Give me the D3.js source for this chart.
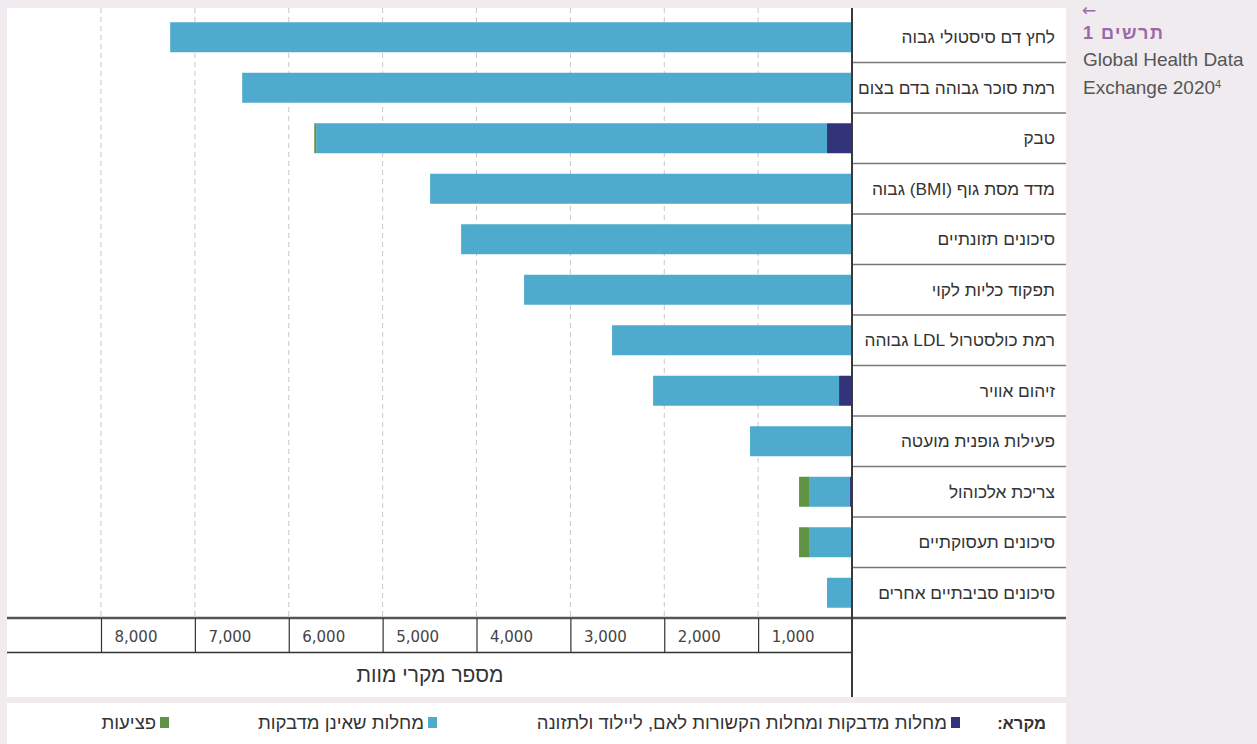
<!DOCTYPE html>
<html lang="he">
<head>
<meta charset="utf-8">
<script src="https://cdn.jsdelivr.net/npm/d3@7"></script>
<style>
  html, body { margin: 0; padding: 0; background: #efebef; }
  svg { display: block; }
  text { font-family: "Liberation Sans", Arial, "DejaVu Sans", sans-serif; }
  text.dv { font-family: "DejaVu Sans", sans-serif; }
</style>
</head>
<body>
<svg id="chart" width="1257" height="744"></svg>
<script>
const categories = [
  "לחץ דם סיסטולי גבוה",
  "רמת סוכר גבוהה בדם בצום",
  "טבק",
  "מדד מסת גוף (BMI) גבוה",
  "סיכונים תזונתיים",
  "תפקוד כליות לקוי",
  "רמת כולסטרול LDL גבוהה",
  "זיהום אוויר",
  "פעילות גופנית מועטה",
  "צריכת אלכוהול",
  "סיכונים תעסוקתיים",
  "סיכונים סביבתיים אחרים"
];
const communicable    = [0, 0, 266, 0, 0, 0, 0, 138, 0, 21, 0, 0];
const noncommunicable = [7263, 6496, 5442, 4494, 4164, 3493, 2556, 1981, 1086, 437, 458, 266];
const injuries        = [0, 0, 20, 0, 0, 0, 0, 0, 0, 106, 106, 0];
const tickValues = [1000, 2000, 3000, 4000, 5000, 6000, 7000, 8000];
const seriesNames = [
  "מחלות מדבקות ומחלות הקשורות לאם, ליילוד ולתזונה",
  "מחלות שאינן מדבקות",
  "פציעות"
];
const colors = ["#33337a", "#4eabcd", "#609444"];
const axisTitle = "מספר מקרי מוות";
const legendTitle = "מקרא:";
const captionTitle = "תרשים 1";
const captionLines = ["Global Health Data", "Exchange 2020"];

const svg = d3.select("#chart");

// panels
svg.append("rect").attr("x", 7).attr("y", 8).attr("width", 1059).attr("height", 689).attr("fill", "#fff");
svg.append("rect").attr("x", 7).attr("y", 703).attr("width", 1059).attr("height", 41).attr("fill", "#fff");

const x0 = 852, plotTop = 12, plotBottom = 618;
const x = d3.scaleLinear().domain([0, 8000]).range([x0, 101]);
const y = d3.scaleBand().domain(categories).range([plotTop, plotBottom]).paddingInner(0.406).paddingOuter(0.203);

// dashed gridlines
svg.append("g").selectAll("line").data(tickValues).join("line")
  .attr("x1", d => x(d)).attr("x2", d => x(d))
  .attr("y1", 8).attr("y2", plotBottom)
  .attr("stroke", "#c8c8c8").attr("stroke-width", 1).attr("stroke-dasharray", "5,4");

// stacked bars
const rows = categories.map((c, i) => ({cat: c, v: [communicable[i], noncommunicable[i], injuries[i]]}));
const g = svg.append("g");
rows.forEach(r => {
  let acc = 0;
  r.v.forEach((v, k) => {
    if (v > 0) {
      g.append("rect")
        .attr("x", x(acc + v)).attr("width", x(acc) - x(acc + v))
        .attr("y", y(r.cat)).attr("height", y.bandwidth())
        .attr("fill", colors[k]);
    }
    acc += v;
  });
});

// row separators in label column
svg.append("g").selectAll("line").data(categories.slice(1)).join("line")
  .attr("x1", x0).attr("x2", 1066)
  .attr("y1", d => y(d) - y.step() * y.paddingInner() / 2)
  .attr("y2", d => y(d) - y.step() * y.paddingInner() / 2)
  .attr("stroke", "#777").attr("stroke-width", 1.5);

// category labels
svg.append("g").selectAll("text").data(categories).join("text")
  .attr("x", 1055).attr("y", d => y(d) + y.bandwidth() / 2)
  .attr("dy", "0.35em")
  .attr("direction", "rtl").attr("text-anchor", "start")
  .attr("font-size", 17.3).attr("fill", "#333")
  .text(d => d);

// axis frame
svg.append("line").attr("x1", 7).attr("x2", 1066).attr("y1", 618).attr("y2", 618)
  .attr("stroke", "#555").attr("stroke-width", 2.5);
svg.append("line").attr("x1", 7).attr("x2", x0).attr("y1", 652.5).attr("y2", 652.5)
  .attr("stroke", "#333").attr("stroke-width", 1.5);

// tick cells via d3 axis
const axisG = svg.append("g").attr("transform", "translate(0,618)")
  .call(d3.axisBottom(x).tickValues(tickValues).tickSize(35).tickFormat(d3.format(",")));
axisG.select(".domain").remove();
axisG.selectAll(".tick line").attr("stroke", "#333").attr("stroke-width", 1.2);
axisG.selectAll(".tick text")
  .attr("class", "dv")
  .attr("x", 13).attr("y", 19).attr("dy", "0.35em")
  .attr("text-anchor", "start")
  .attr("font-size", 15).attr("fill", "#444");

// zero axis line
svg.append("line").attr("x1", x0).attr("x2", x0).attr("y1", 8).attr("y2", 697)
  .attr("stroke", "#3a3a3a").attr("stroke-width", 2);

// axis title
svg.append("text").attr("x", 430).attr("y", 675).attr("dy", "0.35em")
  .attr("text-anchor", "middle").attr("direction", "rtl")
  .attr("font-size", 21).attr("fill", "#333").text(axisTitle);

// legend
svg.append("text").attr("x", 1046).attr("y", 723).attr("dy", "0.35em")
  .attr("direction", "rtl").attr("text-anchor", "start")
  .attr("font-size", 16.5).attr("font-weight", "bold").attr("fill", "#333").text(legendTitle);
const legendPos = [960, 437, 169];
seriesNames.forEach((n, k) => {
  svg.append("rect").attr("x", legendPos[k] - 9).attr("y", 717).attr("width", 9).attr("height", 11)
    .attr("fill", colors[k]);
  svg.append("text").attr("x", legendPos[k] - 13).attr("y", 723).attr("dy", "0.35em")
    .attr("direction", "rtl").attr("text-anchor", "start")
    .attr("font-size", 18.5).attr("fill", "#333").text(n);
});

// caption
svg.append("text").attr("class", "dv").attr("x", 1082).attr("y", 10).attr("dy", "0.35em")
  .attr("font-size", 17).attr("fill", "#9b6aa6").text("←");
svg.append("text").attr("x", 1083).attr("y", 33).attr("dy", "0.35em")
  .attr("direction", "rtl").attr("text-anchor", "end")
  .attr("letter-spacing", 1.5)
  .attr("font-size", 18).attr("font-weight", "bold").attr("fill", "#9b6aa6").text(captionTitle);
svg.append("text").attr("x", 1083).attr("y", 59).attr("dy", "0.35em")
  .attr("font-size", 19).attr("fill", "#555").text(captionLines[0]);
const cap2 = svg.append("text").attr("x", 1083).attr("y", 87).attr("dy", "0.35em")
  .attr("font-size", 19).attr("fill", "#555").text(captionLines[1]);
cap2.append("tspan").attr("dy", "-0.5em").attr("font-size", 11).text("4");
</script>
</body>
</html>
